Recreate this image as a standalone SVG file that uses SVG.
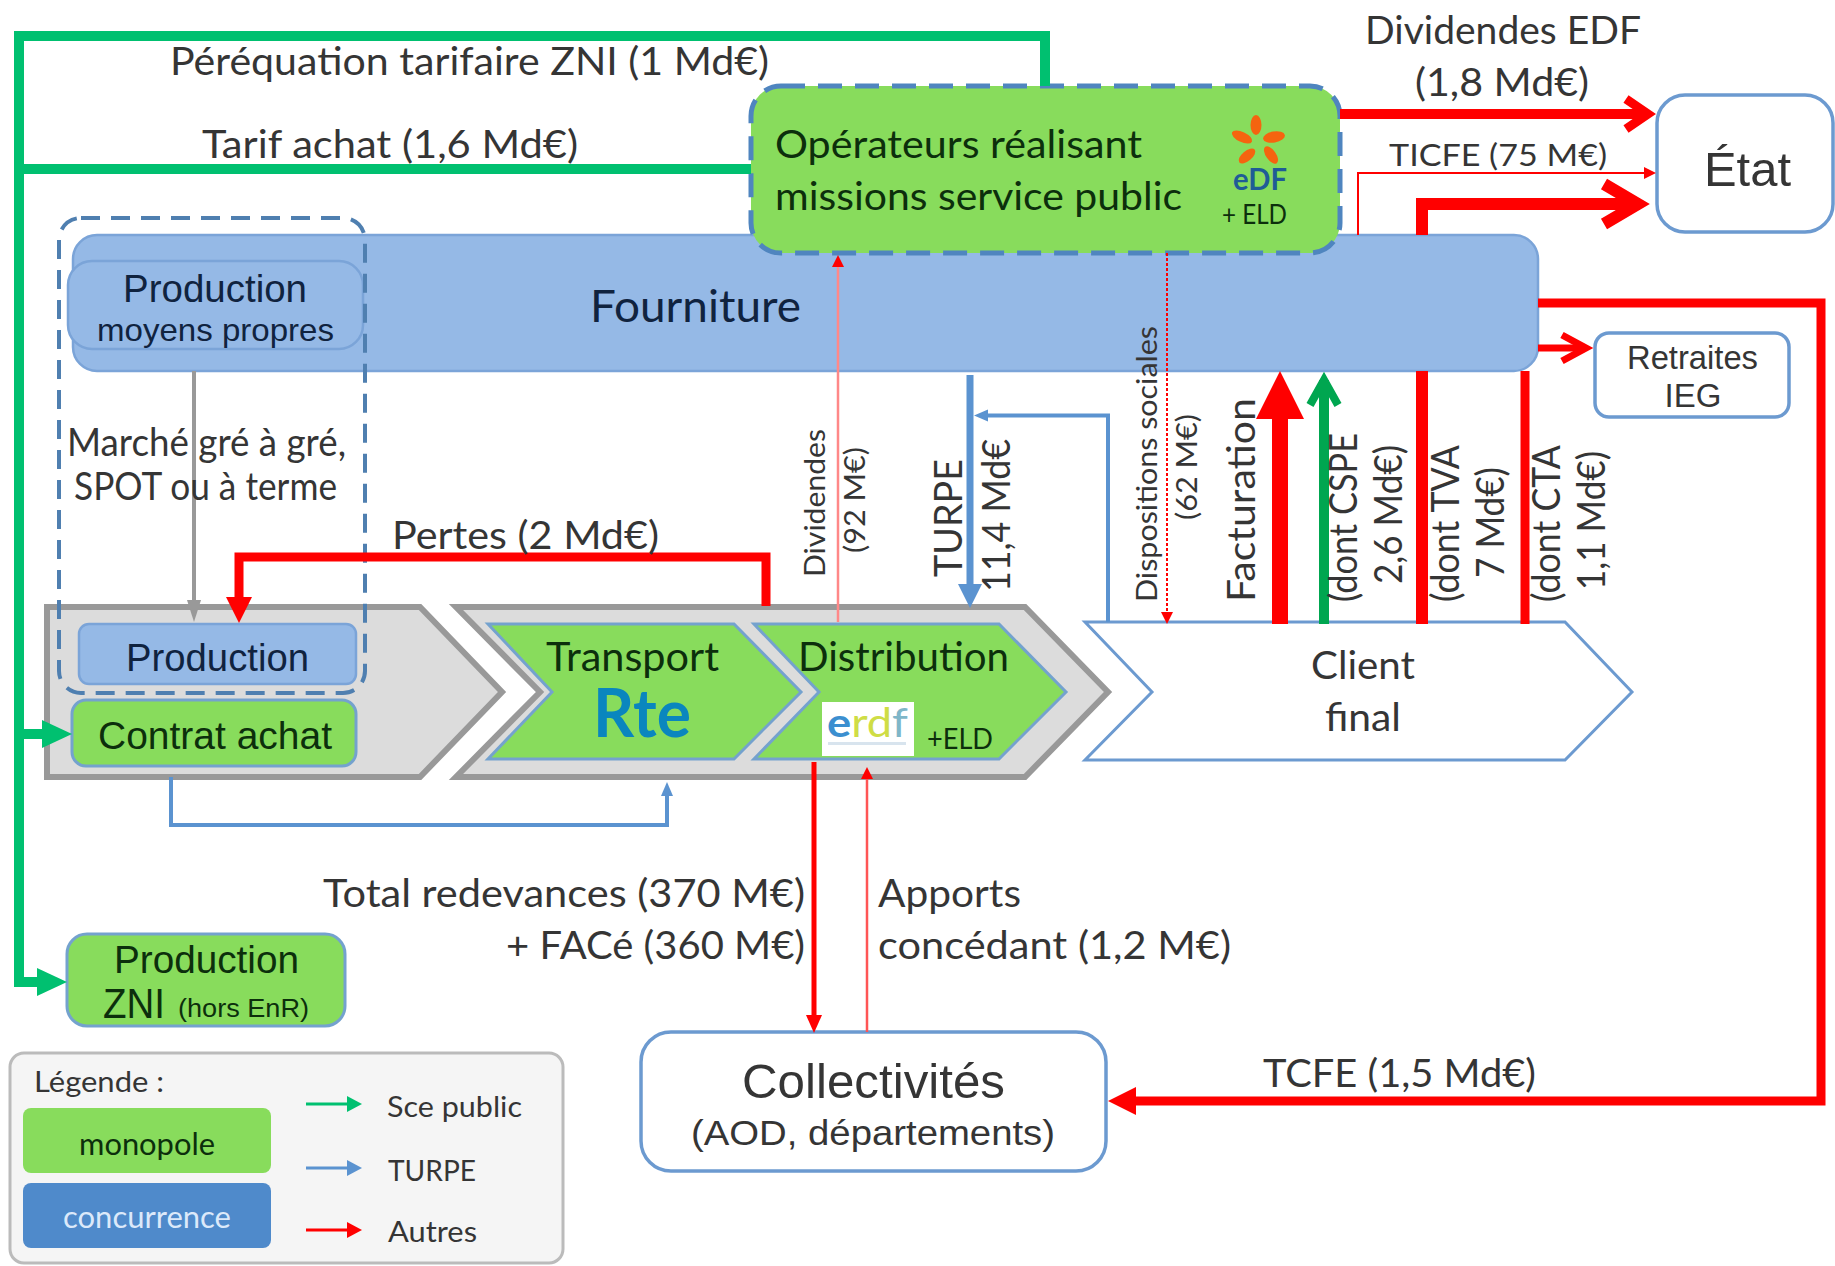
<svg xmlns="http://www.w3.org/2000/svg" width="1835" height="1266" viewBox="0 0 1835 1266">
<style>
text{font-family:Lato,"Liberation Sans",sans-serif;fill:#353535;font-size:38px}
.a{font-family:"Liberation Sans",Arial,sans-serif}
.dk{fill:#0c2f0c}
.nv{fill:#10233f}
.mono{fill:#88DC5C;stroke:#74A2CE;stroke-width:3}
.conc{fill:#95B9E6;stroke:#7BA4D8;stroke-width:2.500}
.white{fill:#fff;stroke:#6C9AD0;stroke-width:3.500}
.gray{fill:#DCDCDC;stroke:#999;stroke-width:6}
.c{fill:none;stroke-linejoin:miter}
.g{stroke:#00C070}
.r{stroke:#F00}
.b{stroke:#5B93D0}
.lg{font-size:28px}
.rot{font-size:38px}
.rs{font-size:28px}
</style>
<defs>
<marker id="hG" markerUnits="userSpaceOnUse" markerWidth="40" markerHeight="40" refX="0" refY="0" orient="auto" overflow="visible"><path d="M-15-14L15 0L-15 14z" fill="#00C070"/></marker>
<marker id="hRp" markerUnits="userSpaceOnUse" markerWidth="40" markerHeight="40" refX="0" refY="0" orient="auto" overflow="visible"><path d="M-13-13L13 0L-13 13z" fill="#F00"/></marker>
<marker id="hGr" markerUnits="userSpaceOnUse" markerWidth="40" markerHeight="40" refX="0" refY="0" orient="auto" overflow="visible"><path d="M-11-7L11 0L-11 7z" fill="#999"/></marker>
<marker id="hBt" markerUnits="userSpaceOnUse" markerWidth="40" markerHeight="40" refX="0" refY="0" orient="auto" overflow="visible"><path d="M-12-12L12 0L-12 12z" fill="#5B93D0"/></marker>
<marker id="hBs" markerUnits="userSpaceOnUse" markerWidth="40" markerHeight="40" refX="0" refY="0" orient="auto" overflow="visible"><path d="M-7-6L7 0L-7 6z" fill="#5B93D0"/></marker>
<marker id="hF" markerUnits="userSpaceOnUse" markerWidth="60" markerHeight="60" refX="0" refY="0" orient="auto" overflow="visible"><path d="M-24-24L24 0L-24 24z" fill="#F00"/></marker>
<marker id="hT" markerUnits="userSpaceOnUse" markerWidth="40" markerHeight="40" refX="0" refY="0" orient="auto" overflow="visible"><path d="M-14-14L14 0L-14 14z" fill="#F00"/></marker>
<marker id="hRs" markerUnits="userSpaceOnUse" markerWidth="20" markerHeight="20" refX="0" refY="0" orient="auto" overflow="visible"><path d="M-6-6L6 0L-6 6z" fill="#F00"/></marker>
<marker id="hRm" markerUnits="userSpaceOnUse" markerWidth="30" markerHeight="30" refX="0" refY="0" orient="auto" overflow="visible"><path d="M-9-8L9 0L-9 8z" fill="#F00"/></marker>
<marker id="oD" markerUnits="userSpaceOnUse" markerWidth="60" markerHeight="60" refX="0" refY="0" orient="auto" overflow="visible"><path d="M-22-15L0 0L-22 15" fill="none" stroke="#F00" stroke-width="9"/></marker>
<marker id="oT" markerUnits="userSpaceOnUse" markerWidth="60" markerHeight="60" refX="0" refY="0" orient="auto" overflow="visible"><path d="M-34-20L0 0L-34 20" fill="none" stroke="#F00" stroke-width="12"/></marker>
<marker id="oR" markerUnits="userSpaceOnUse" markerWidth="60" markerHeight="60" refX="0" refY="0" orient="auto" overflow="visible"><path d="M-24-13L0 0L-24 13" fill="none" stroke="#F00" stroke-width="7"/></marker>
<marker id="oG" markerUnits="userSpaceOnUse" markerWidth="60" markerHeight="60" refX="0" refY="0" orient="auto" overflow="visible"><path d="M-25-14L0 0L-25 14" fill="none" stroke="#00A650" stroke-width="8"/></marker>
<marker id="lgG" markerUnits="userSpaceOnUse" markerWidth="20" markerHeight="20" refX="0" refY="0" orient="auto" overflow="visible"><path d="M-7-8L8 0L-7 8z" fill="#00C070"/></marker>
<marker id="lgB" markerUnits="userSpaceOnUse" markerWidth="20" markerHeight="20" refX="0" refY="0" orient="auto" overflow="visible"><path d="M-7-8L8 0L-7 8z" fill="#5B93D0"/></marker>
<marker id="lgR" markerUnits="userSpaceOnUse" markerWidth="20" markerHeight="20" refX="0" refY="0" orient="auto" overflow="visible"><path d="M-7-8L8 0L-7 8z" fill="#F00"/></marker>
</defs>
<rect width="1835" height="1266" fill="#fff"/>

<g id="node-fourniture">
<rect class="conc" x="73" y="235" width="1465" height="136" rx="24"/>
<text class="nv" x="590" y="322" style="font-size:44px" textLength="211" lengthAdjust="spacingAndGlyphs">Fourniture</text>
</g>
<g id="node-production-moyens-propres">
<rect class="conc" x="68" y="261" width="295" height="88" rx="24"/>
<text class="a nv" x="123" y="302" style="font-size:38px" textLength="184" lengthAdjust="spacingAndGlyphs">Production</text>
<text class="a nv" x="97" y="341" style="font-size:32px" textLength="237" lengthAdjust="spacingAndGlyphs">moyens propres</text>
</g>
<g id="node-operateurs">
<rect x="751" y="86" width="589" height="167" rx="30" fill="#88DC5C" stroke="#4F85BF" stroke-width="5" stroke-dasharray="24 13"/>
<text class="dk" x="775" y="158" textLength="367" lengthAdjust="spacingAndGlyphs">Opérateurs réalisant</text>
<text class="dk" x="775" y="210" textLength="407" lengthAdjust="spacingAndGlyphs">missions service public</text>
<g id="logo-edf" fill="#F5640F">
<ellipse cx="1256" cy="125" rx="5.500" ry="10"/>
<ellipse cx="1274" cy="137" rx="5.500" ry="11" transform="rotate(80 1274 137)"/>
<ellipse cx="1271" cy="155" rx="5" ry="10" transform="rotate(-35 1271 155)"/>
<ellipse cx="1247" cy="156" rx="5" ry="10" transform="rotate(50 1247 156)"/>
<ellipse cx="1242" cy="137" rx="5" ry="11" transform="rotate(-65 1242 137)"/>
</g>
<text x="1233" y="190" style="font-size:31px;font-weight:700;fill:#1F5C96" textLength="54" lengthAdjust="spacingAndGlyphs">eDF</text>
<text class="dk" x="1222" y="224" style="font-size:26px" textLength="65" lengthAdjust="spacingAndGlyphs">+ ELD</text>
</g>
<g id="node-etat">
<rect class="white" x="1657" y="95" width="176" height="137" rx="28"/>
<text class="a" x="1704" y="186" style="font-size:49px" textLength="87" lengthAdjust="spacingAndGlyphs">État</text>
</g>
<g id="node-retraites">
<rect class="white" x="1595" y="333" width="194" height="84" rx="14"/>
<text class="a" x="1627" y="369" style="font-size:33px" textLength="131" lengthAdjust="spacingAndGlyphs">Retraites</text>
<text class="a" x="1693" y="407" text-anchor="middle" style="font-size:33px">IEG</text>
</g>
<g id="node-chaine-production">
<path class="gray" d="M47 607H420L502 692L420 777H47z"/>
</g>
<g id="node-chaine-reseaux">
<path class="gray" d="M456 607H1025L1108 692L1025 777H456L540 692z"/>
</g>
<g id="node-production">
<rect class="conc" x="79" y="624" width="277" height="60" rx="10"/>
<text class="a nv" x="126" y="671" style="font-size:38px" textLength="183" lengthAdjust="spacingAndGlyphs">Production</text>
</g>
<g id="node-contrat-achat">
<rect class="mono" x="72" y="700" width="284" height="66" rx="14"/>
<text class="a dk" x="98" y="749" style="font-size:38px" textLength="234" lengthAdjust="spacingAndGlyphs">Contrat achat</text>
</g>
<g id="node-transport">
<path class="mono" d="M488 624H734L801 692L734 759H488L552 692z"/>
<text class="dk" x="546" y="671" style="font-size:40px" textLength="173" lengthAdjust="spacingAndGlyphs">Transport</text>
<text x="593" y="737" style="font-size:66px;font-weight:700;fill:#0A86BE" textLength="98" lengthAdjust="spacingAndGlyphs">Rte</text>
</g>
<g id="node-distribution">
<path class="mono" d="M754 624H999L1066 692L999 759H754L819 692z"/>
<text class="dk" x="798" y="671" style="font-size:40px" textLength="211" lengthAdjust="spacingAndGlyphs">Distribution</text>
<rect x="822" y="702" width="92" height="54" fill="#fff"/>
<text x="827" y="737" style="font-size:40px;fill:#CFDD45" textLength="81" lengthAdjust="spacingAndGlyphs"><tspan style="fill:#3B8FD0;font-weight:700">e</tspan>rd<tspan style="fill:#7FB6C8">f</tspan></text>
<rect x="828" y="742" width="78" height="3" fill="#D8E4EE"/>
<text class="dk" x="927" y="749" style="font-size:29px" textLength="66" lengthAdjust="spacingAndGlyphs">+ELD</text>
</g>
<g id="node-client">
<path class="white" style="stroke-width:3" d="M1085 622H1565L1632 692L1565 760H1085L1152 692z"/>
<text x="1363" y="679" text-anchor="middle" textLength="104" lengthAdjust="spacingAndGlyphs">Client</text>
<text x="1363" y="731" text-anchor="middle" textLength="76" lengthAdjust="spacingAndGlyphs">final</text>
</g>
<g id="node-production-zni">
<rect class="mono" x="67" y="934" width="278" height="92" rx="20"/>
<text class="a dk" x="114" y="973" style="font-size:38px" textLength="185" lengthAdjust="spacingAndGlyphs">Production</text>
<text class="a dk" x="103" y="1018" style="font-size:42px" textLength="62" lengthAdjust="spacingAndGlyphs">ZNI</text>
<text class="a dk" x="178" y="1017" style="font-size:25px" textLength="131" lengthAdjust="spacingAndGlyphs">(hors EnR)</text>
</g>
<g id="node-collectivites">
<rect class="white" x="641" y="1032" width="465" height="139" rx="30"/>
<text class="a" x="742" y="1098" style="font-size:49px" textLength="263" lengthAdjust="spacingAndGlyphs">Collectivités</text>
<text class="a" x="691" y="1145" style="font-size:35px" textLength="364" lengthAdjust="spacingAndGlyphs">(AOD, départements)</text>
</g>
<g id="perimetre-pointille">
<rect x="59" y="218" width="306" height="475" rx="22" fill="none" stroke="#4F7FB0" stroke-width="4" stroke-dasharray="19 11"/>
</g>

<g id="connectors" class="c">
<path class="c g" stroke-width="10" d="M1045 86V36H19V982H52" marker-end="url(#hG)"/>
<path class="c g" stroke-width="10" d="M751 169H19"/>
<path class="c g" stroke-width="10" d="M19 734H57" marker-end="url(#hG)"/>
<path class="c" stroke="#999" stroke-width="4" d="M194 371V611" marker-end="url(#hGr)"/>
<path class="c r" stroke-width="9" d="M766 606V557H239V610" marker-end="url(#hRp)"/>
<path class="c b" stroke-width="4" d="M171 777V825H667V789" marker-end="url(#hBs)"/>
<path class="c b" stroke-width="7" d="M970 375V596" marker-end="url(#hBt)"/>
<path class="c b" stroke-width="4" d="M1108 622V415.500H981" marker-end="url(#hBs)"/>
<path class="c" stroke="#F88" stroke-width="2.500" d="M838 622V261" marker-end="url(#hRs)"/>
<path class="c r" stroke-width="2" stroke-dasharray="3 2" d="M1167 253V618" marker-end="url(#hRs)"/>
<path class="c r" stroke-width="16" d="M1280 624V395" marker-end="url(#hF)"/>
<path class="c" stroke="#00A650" stroke-width="10" d="M1324 624V380" marker-end="url(#oG)"/>
<path class="c r" stroke-width="12" d="M1422 624V371"/>
<path class="c r" stroke-width="9" d="M1525 624V371"/>
<path class="c r" stroke-width="10" d="M1340 114H1648" marker-end="url(#oD)"/>
<path class="c r" stroke-width="2" d="M1358 235V173H1650" marker-end="url(#hRs)"/>
<path class="c r" stroke-width="12" d="M1422 235V204H1638" marker-end="url(#oT)"/>
<path class="c r" stroke-width="7" d="M1538 348H1586" marker-end="url(#oR)"/>
<path class="c r" stroke-width="9" d="M1538 303H1821V1101H1122" marker-end="url(#hT)"/>
<path class="c r" stroke-width="5" d="M814 762V1024" marker-end="url(#hRm)"/>
<path class="c" stroke="#F55" stroke-width="2.500" d="M867 1032V773" marker-end="url(#hRs)"/>
</g>

<g id="labels">
<text x="170" y="75" textLength="599" lengthAdjust="spacingAndGlyphs">Péréquation tarifaire ZNI (1 Md€)</text>
<text x="202" y="158" textLength="376" lengthAdjust="spacingAndGlyphs">Tarif achat (1,6 Md€)</text>
<text x="1365" y="44" textLength="276" lengthAdjust="spacingAndGlyphs">Dividendes EDF</text>
<text x="1415" y="96" textLength="174" lengthAdjust="spacingAndGlyphs">(1,8 Md€)</text>
<text x="1389" y="166" style="font-size:31px" textLength="218" lengthAdjust="spacingAndGlyphs">TICFE (75 M€)</text>
<text x="67" y="456" textLength="279" lengthAdjust="spacingAndGlyphs">Marché gré à gré,</text>
<text x="74" y="500" textLength="263" lengthAdjust="spacingAndGlyphs">SPOT ou à terme</text>
<text x="392" y="549" textLength="267" lengthAdjust="spacingAndGlyphs">Pertes (2 Md€)</text>
<text x="323" y="907" textLength="482" lengthAdjust="spacingAndGlyphs">Total redevances (370 M€)</text>
<text x="506" y="959" textLength="299" lengthAdjust="spacingAndGlyphs">+ FACé (360 M€)</text>
<text x="878" y="907" textLength="143" lengthAdjust="spacingAndGlyphs">Apports</text>
<text x="878" y="959" textLength="353" lengthAdjust="spacingAndGlyphs">concédant (1,2 M€)</text>
<text x="1263" y="1087" textLength="273" lengthAdjust="spacingAndGlyphs">TCFE (1,5 Md€)</text>
<text class="rs" transform="translate(825 577) rotate(-90)" textLength="148" lengthAdjust="spacingAndGlyphs">Dividendes</text>
<text class="rs" transform="translate(865 553) rotate(-90)" textLength="106" lengthAdjust="spacingAndGlyphs">(92 M€)</text>
<text class="rot" transform="translate(962 577) rotate(-90)" textLength="118" lengthAdjust="spacingAndGlyphs">TURPE</text>
<text class="rot" transform="translate(1010 592) rotate(-90)" textLength="153" lengthAdjust="spacingAndGlyphs">11,4 Md€</text>
<text class="rs" transform="translate(1157 602) rotate(-90)" textLength="276" lengthAdjust="spacingAndGlyphs">Dispositions sociales</text>
<text class="rs" transform="translate(1197 520) rotate(-90)" textLength="106" lengthAdjust="spacingAndGlyphs">(62 M€)</text>
<text class="rot" transform="translate(1255 602) rotate(-90)" textLength="204" lengthAdjust="spacingAndGlyphs">Facturation</text>
<text class="rot" transform="translate(1357 602) rotate(-90)" textLength="169" lengthAdjust="spacingAndGlyphs">(dont CSPE</text>
<text class="rot" transform="translate(1402 584) rotate(-90)" textLength="139" lengthAdjust="spacingAndGlyphs">2,6 Md€)</text>
<text class="rot" transform="translate(1459 602) rotate(-90)" textLength="157" lengthAdjust="spacingAndGlyphs">(dont TVA</text>
<text class="rot" transform="translate(1504 578) rotate(-90)" textLength="111" lengthAdjust="spacingAndGlyphs">7 Md€)</text>
<text class="rot" transform="translate(1560 602) rotate(-90)" textLength="157" lengthAdjust="spacingAndGlyphs">(dont CTA</text>
<text class="rot" transform="translate(1605 590) rotate(-90)" textLength="139" lengthAdjust="spacingAndGlyphs">1,1 Md€)</text>
</g>

<g id="legende">
<rect x="10" y="1053" width="553" height="210" rx="14" fill="#F5F5F5" stroke="#BBB" stroke-width="3"/>
<text class="lg" x="34" y="1092" textLength="130" lengthAdjust="spacingAndGlyphs">Légende :</text>
<rect x="23" y="1108" width="248" height="65" rx="8" fill="#88DC5C"/>
<text class="lg dk" x="79" y="1155" style="font-size:31px" textLength="136" lengthAdjust="spacingAndGlyphs">monopole</text>
<rect x="23" y="1183" width="248" height="65" rx="8" fill="#4F8ACB"/>
<text class="lg" x="63" y="1228" style="font-size:31px;fill:#DCE9FA" textLength="168" lengthAdjust="spacingAndGlyphs">concurrence</text>
<path class="c g" stroke-width="3" d="M306 1104H354" marker-end="url(#lgG)"/>
<path class="c b" stroke-width="3" d="M306 1168H354" marker-end="url(#lgB)"/>
<path class="c r" stroke-width="3" d="M306 1230H354" marker-end="url(#lgR)"/>
<text class="lg" x="387" y="1117" textLength="135" lengthAdjust="spacingAndGlyphs">Sce public</text>
<text class="lg" x="388" y="1181" textLength="88" lengthAdjust="spacingAndGlyphs">TURPE</text>
<text class="lg" x="388" y="1242" textLength="89" lengthAdjust="spacingAndGlyphs">Autres</text>
</g>
</svg>
